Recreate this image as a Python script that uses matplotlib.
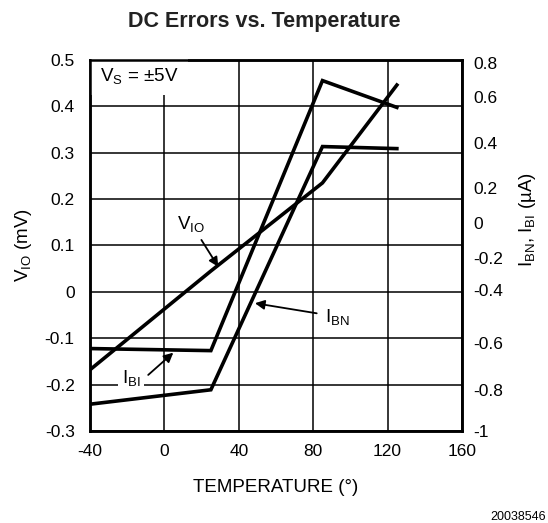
import matplotlib
matplotlib.use("Agg")
import matplotlib.pyplot as plt

plt.rcParams['font.family'] = ['Liberation Sans', 'DejaVu Sans']
plt.rcParams['axes.unicode_minus'] = False

# data
temps = [-40, 25, 85, 125]
vio = [-0.168, 0.045, 0.235, 0.446]       # mV, left axis
ibi = [-0.60, -0.61, 0.70, 0.57]          # uA, right axis
ibn = [-0.87, -0.80, 0.38, 0.37]          # uA, right axis

x_ticks = [-40, 0, 40, 80, 120, 160]
vio_ticks = [-0.3, -0.2, -0.1, 0, 0.1, 0.2, 0.3, 0.4, 0.5]
vio_tick_labels = ['-0.3', '-0.2', '-0.1', '0', '0.1', '0.2', '0.3', '0.4', '0.5']
ib_tick_labels = ['0.8', '0.6', '0.4', '0.2', '0', '-0.2', '-0.4', '-0.6', '-0.8', '-1']
# the original sheet places these labels unevenly
ib_tick_pos = [0.785, 0.62, 0.397, 0.179, 0.009, -0.161, -0.316, -0.573, -0.801, -0.998]

fig = plt.figure(figsize=(5.48, 5.23), dpi=100)
ax = fig.add_axes([0.1642, 0.1759, 0.6788, 0.7094])
ax2 = ax.twinx()

lw = 2.6
ax.plot(temps, vio, color='black', lw=lw, solid_joinstyle='miter')
ax2.plot(temps, ibi, color='black', lw=lw, solid_joinstyle='miter')
ax2.plot(temps, ibn, color='black', lw=lw, solid_joinstyle='miter')

ax.set_xlim(-40, 160)
ax.set_ylim(-0.3, 0.5)
ax2.set_ylim(-1, 0.8)

ax.set_xticks(x_ticks)
ax.set_xticklabels([str(t) for t in x_ticks])
ax.set_yticks(vio_ticks)
ax.set_yticklabels(vio_tick_labels)
ax2.set_yticks(ib_tick_pos)
ax2.set_yticklabels(ib_tick_labels)

ax.grid(True, color='black', lw=1.1)
ax.tick_params(axis='both', length=0, labelsize=12.5)
ax.tick_params(axis='x', pad=9)
ax.tick_params(axis='y', pad=11)
ax2.tick_params(axis='y', length=0, labelsize=12.5, pad=8)

for a in (ax, ax2):
    for s in a.spines.values():
        s.set_linewidth(1.8)

ax.set_xlabel('TEMPERATURE (°)', fontsize=13.5, labelpad=15)
ax.set_ylabel(r'$\mathregular{V_{IO}}$ (mV)', fontsize=13.5)
ax.yaxis.set_label_coords(-0.150, 0.5)
ax2.set_ylabel(r'$\mathregular{I_{BN}}$, $\mathregular{I_{BI}}$ (µA)', fontsize=13.5)
ax2.yaxis.set_label_coords(1.148, 0.569)

fig.text(0.4818, 0.958, 'DC Errors vs. Temperature', fontsize=15.5,
         fontweight='bold', color='#222222', ha='center', va='center')
fig.text(0.997, 0.0115, '20038546', fontsize=9, ha='right', va='center')

ax.text(-34.6, 0.466, r'$\mathregular{V_S}$ = ±5V', fontsize=13.5, ha='left', va='center',
        bbox=dict(boxstyle='square,pad=0.5', fc='white', ec='none'))

# curve labels
arrow = dict(arrowstyle='-|>', color='black', lw=1.3, mutation_scale=14,
             shrinkA=0, shrinkB=0)
ax.text(14.3, 0.146, r'$\mathregular{V_{IO}}$', fontsize=13.5, ha='center', va='center')
ax.annotate('', xy=(29.0, 0.054), xytext=(19.9, 0.112), arrowprops=arrow)

ax2.text(86.3, -0.447, r'$\mathregular{I_{BN}}$', fontsize=13.5, ha='left', va='center')
ax2.annotate('', xy=(48.7, -0.380), xytext=(81.9, -0.429), arrowprops=arrow)

ax2.text(-23.0, -0.743, r'$\mathregular{I_{BI}}$', fontsize=13.5, ha='left', va='center',
         bbox=dict(boxstyle='square,pad=0.2', fc='white', ec='none'))
ax2.annotate('', xy=(4.8, -0.620), xytext=(-8.7, -0.728), arrowprops=arrow)

fig.savefig('out.png', dpi=100)
